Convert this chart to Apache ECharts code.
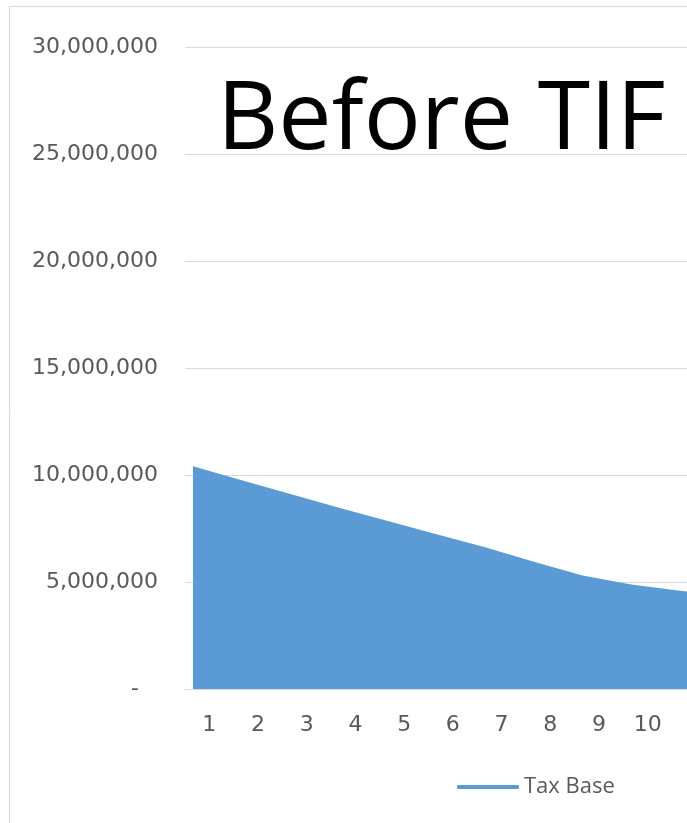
<!DOCTYPE html>
<html>
<head>
<meta charset="utf-8">
<script src="https://cdn.jsdelivr.net/npm/echarts@6/dist/echarts.min.js"></script>
<style>
html,body{margin:0;padding:0;background:#fff;}
#c{width:687px;height:823px;}
</style>
</head>
<body>
<div id="c"></div>
<script>
// Category labels along the x axis (chart continues past the right edge of the picture)
var categories = ['1','2','3','4','5','6','7','8','9','10','11','12'];
// Period index of each data point
var periods = [1,2,3,4,5,6,7,8,9,10,11,12];
// Tax Base values
var taxBase = [10410000, 9760000, 9110000, 8470000, 7850000, 7230000, 6620000, 5950000, 5300000, 4880000, 4590000, 4350000];
// Y tick values
var yMin = 0, yMax = 30000000, yStep = 5000000;
var seriesName = 'Tax Base';
var titleText = 'Before TIF';
var visibleLabels = 10; // labels that fall inside the picture

var chart = echarts.init(document.getElementById('c'), null, {renderer:'canvas'});
var catW = 48.7;
var pointShift = 8 / catW; // area starts slightly right of plot edge

function fmt(v){
  if (v === 0) return '{d|-}';
  return v.toString().replace(/\B(?=(\d{3})+(?!\d))/g, ',');
}

chart.setOption({
  animation:false,
  backgroundColor:'#ffffff',
  title:{
    text:titleText,
    left:212, top:69,
    textStyle:{fontFamily:'Open Sans', fontSize:95, fontWeight:'normal', color:'#000000'}
  },
  legend:{
    data:[seriesName],
    left:452, top:771,
    icon:'roundRect', itemWidth:62, itemHeight:4, itemGap:5,
    textStyle:{fontFamily:'Open Sans', fontSize:22, color:'#595959'}
  },
  grid:{left:185, top:47, width:catW*categories.length, height:642, containLabel:false, outerBoundsMode:'none'},
  xAxis:[{
    type:'category', data:categories, boundaryGap:true,
    axisLine:{show:true, lineStyle:{color:'#d9d9d9'}},
    axisTick:{show:false},
    axisLabel:{fontFamily:'DejaVu Sans', fontSize:22, color:'#595959', margin:25,
      interval:function(i){ return i < visibleLabels; }}
  },{
    type:'value', show:false,
    min: periods[0] - pointShift, max: periods[0] - pointShift + categories.length
  }],
  yAxis:{
    type:'value', min:yMin, max:yMax, interval:yStep,
    axisLine:{show:false}, axisTick:{show:false},
    splitLine:{lineStyle:{color:'#d9d9d9', width:1}},
    axisLabel:{fontFamily:'DejaVu Sans', fontSize:22, color:'#595959', margin:27,
      formatter:fmt, rich:{d:{fontFamily:'DejaVu Sans', fontSize:22, color:'#595959', padding:[0,19,0,0]}}}
  },
  graphic:[{
    type:'rect', silent:true, z:-1,
    shape:{x:9.5, y:6.5, width:760, height:900},
    style:{fill:'none', stroke:'#d9d9d9', lineWidth:1}
  }],
  series:[{
    name:seriesName, type:'line', xAxisIndex:1,
    data: periods.map(function(p,i){return [p, taxBase[i]];}),
    symbol:'none', smooth:false,
    lineStyle:{width:0, color:'#5b9bd5'},
    itemStyle:{color:'#5b9bd5'},
    areaStyle:{color:'#5b9bd5', opacity:1}
  }]
});
</script>
</body>
</html>
